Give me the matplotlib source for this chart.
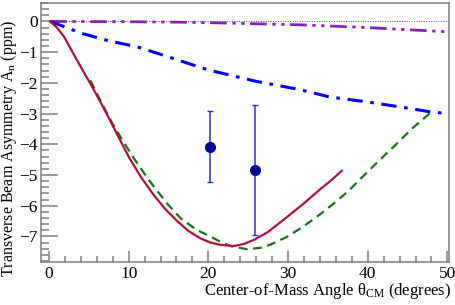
import numpy as np
import matplotlib
matplotlib.use('Agg')
import matplotlib.pyplot as plt
from matplotlib.ticker import MultipleLocator

plt.rcParams['font.family'] = ['Liberation Serif', 'DejaVu Serif']
plt.rcParams['mathtext.fontset'] = 'custom'
plt.rcParams['mathtext.rm'] = 'Liberation Serif'
plt.rcParams['mathtext.it'] = 'Liberation Serif:italic'

# theory curves
red_x = [0.15, 1, 1.9, 2.96, 4.1, 5.25, 6.3, 7.33, 8.8, 10.04, 11.5, 13, 14.5, 16.1,
         17.5, 19, 20.3, 21.5, 23.2, 24.5, 25.8, 27.5, 29.8, 32, 34, 35.5, 36.75]
red_y = [0, -0.2, -0.5, -1.0, -1.53, -2.05, -2.55, -3.05, -3.8, -4.42, -5.05, -5.6, -6.08,
         -6.5, -6.82, -7.06, -7.2, -7.27, -7.31, -7.24, -7.1, -6.85, -6.38, -5.92, -5.47,
         -5.15, -4.86]

green_x = [5.2, 6.5, 7.96, 9.2, 10.67, 12.5, 14.8, 16.5, 18.5, 20.25, 21.5, 22.75, 24.8, 26.5,
           27.75, 29.8, 31.9, 33.5, 35.25, 37.5, 39.5, 41.5, 43.5, 45.5, 47.75]
green_y = [-1.92, -2.6, -3.32, -3.86, -4.46, -5.15, -5.92, -6.4, -6.78, -7.0, -7.17, -7.31,
           -7.41, -7.37, -7.27, -7.02, -6.68, -6.38, -6.03, -5.54, -5.02, -4.51, -4.02, -3.5,
           -3.0]

blue_x = [0.15, 1.5, 4, 7.33, 11.1, 14, 20, 26, 31.5, 35.25, 40, 45, 47.75, 50.2]
blue_y = [0, -0.13, -0.38, -0.62, -0.83, -1.07, -1.58, -1.95, -2.22, -2.46, -2.62, -2.82,
          -2.94, -3.0]

purple_x = [0.15, 10, 15, 20, 25, 31.5, 40, 45, 50.2]
purple_y = [0, -0.01, -0.02, -0.04, -0.07, -0.11, -0.2, -0.27, -0.34]

# data points
pt_x = [20.2, 25.8]
pt_y = [-4.08, -4.83]
err_hi = [1.18, 2.11]
err_lo = [1.16, 2.12]

fig = plt.figure(figsize=(4.55, 3.05), dpi=100)
ax = fig.add_axes([41 / 455, 43 / 305, 408 / 455, 259 / 305])

ax.plot([0, 50.2], [0, 0], color='#555555', lw=0.7, ls=(0, (1, 1.5)))
ax.plot(purple_x, purple_y, color='#8a1fbf', lw=2,
        dashes=(6, 2, 1.2, 2, 1.2, 2))
ax.plot(blue_x, blue_y, color='#0000ff', lw=2.2, dashes=(5, 2.5, 1.2, 2.5))
ax.plot(green_x, green_y, color='#1a7018', lw=1.6, dashes=(4, 2.5))
ax.plot(red_x, red_y, color='#b0103f', lw=1.6)

ax.errorbar(pt_x, pt_y, yerr=[err_lo, err_hi], fmt='o', color='#00009a',
            ecolor='#3030c0', elinewidth=1.1, capsize=2, capthick=1,
            markersize=7)

ax.set_xlim(-1, 50.2)
ax.set_ylim(-7.83, 0.6)

ax.xaxis.set_major_locator(MultipleLocator(10))
ax.xaxis.set_minor_locator(MultipleLocator(2))
ax.yaxis.set_major_locator(MultipleLocator(1))
ax.yaxis.set_minor_locator(MultipleLocator(0.2))

for s in ax.spines.values():
    s.set_color('#888888')
    s.set_linewidth(1.2)
ax.tick_params(which='both', direction='in', colors='#888888', labelcolor='black',
               labelsize=12.5, top=False, right=False)
ax.tick_params(axis='y', which='major', length=12, width=1.2, pad=2.5)
ax.tick_params(axis='y', which='minor', length=6, width=1.2)
ax.tick_params(axis='x', which='major', length=8, width=1.2, pad=3)
ax.tick_params(axis='x', which='minor', length=4, width=1.2)

ax.set_ylabel('Transverse Beam Asymmetry A$_\\mathregular{n}$ (ppm)', fontsize=11.5)
ax.yaxis.set_label_coords(-0.053, 0.44)
ax.set_xlabel('Center-of-Mass Angle \u03b8$_\\mathregular{CM}$ (degrees)', fontsize=12)
ax.xaxis.set_label_coords(1.005, -0.075)
ax.xaxis.label.set_horizontalalignment('right')

fig.savefig('out.png', dpi=100)
